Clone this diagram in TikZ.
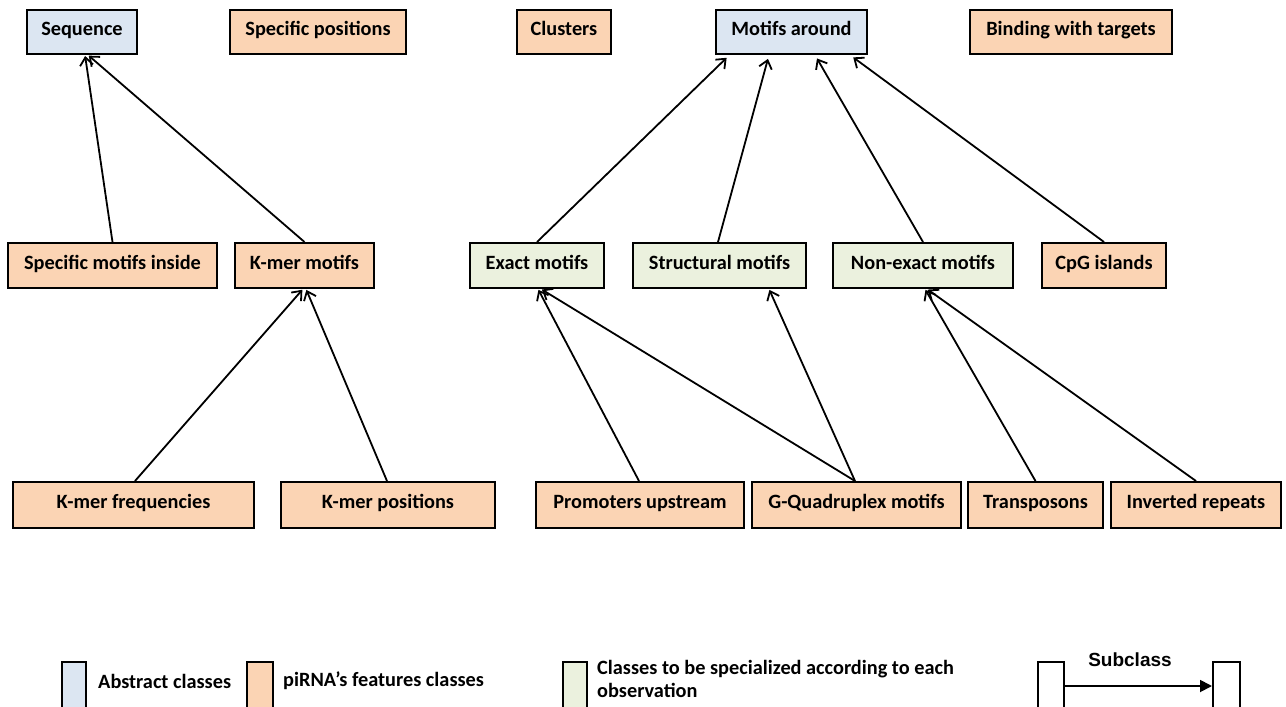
\documentclass[tikz,border=0pt]{standalone}
\usepackage{fontspec}
\setmainfont{Carlito}
\newfontfamily\arialfont{Liberation Sans}
\usetikzlibrary{arrows.meta}
\definecolor{absfill}{HTML}{DCE6F2}
\definecolor{featfill}{HTML}{FBD4B4}
\definecolor{specfill}{HTML}{EBF1DE}
\begin{document}
\begin{tikzpicture}[x=1pt,y=-1pt,
  txt/.style={font=\fontsize{20.3}{23}\selectfont\bfseries, inner sep=0pt},
  box/.style={draw=black, line width=2pt, inner sep=0pt, font=\fontsize{20.3}{23}\selectfont\bfseries, text height=14pt, text depth=7pt},
  absbox/.style={box, fill=absfill},
  featbox/.style={box, fill=featfill},
  specbox/.style={box, fill=specfill},
  plainbox/.style={box, fill=white},
  sub/.style={-{Straight Barb[length=8pt,width=13pt]}, line width=1.8pt, shorten >=1pt},
  subgap/.style={sub, shorten >=4pt}
]
\useasboundingbox (0,0) rectangle (1286,707);
\clip (0,0) rectangle (1286,707);
\fill[white] (0,0) rectangle (1286,707);

% top row
\node[absbox, minimum width=110pt, minimum height=44pt] (seq) at (82,32) {Sequence};
\node[featbox, minimum width=176pt, minimum height=44pt] (spos) at (318,32) {Specific positions};
\node[featbox, minimum width=94pt, minimum height=44pt] (clu) at (564,32) {Clusters};
\node[absbox, minimum width=151pt, minimum height=44pt] (mot) at (791.5,32) {Motifs around};
\node[featbox, minimum width=202pt, minimum height=44pt] (bind) at (1071,32) {Binding with targets};

% middle row
\node[featbox, minimum width=209pt, minimum height=45pt] (smi) at (112.5,265.5) {Specific motifs inside};
\node[featbox, minimum width=139pt, minimum height=45pt] (kmm) at (304.5,265.5) {K-mer motifs};
\node[specbox, minimum width=134pt, minimum height=45pt] (exm) at (537,265.5) {Exact motifs};
\node[specbox, minimum width=173pt, minimum height=45pt] (stm) at (719.5,265.5) {Structural motifs};
\node[specbox, minimum width=180pt, minimum height=45pt] (nem) at (923,265.5) {Non-exact motifs};
\node[featbox, minimum width=124pt, minimum height=45pt] (cpg) at (1104,265.5) {CpG islands};

% bottom row
\node[featbox, minimum width=241pt, minimum height=46pt] (kmf) at (133.5,505) {K-mer frequencies};
\node[featbox, minimum width=214pt, minimum height=46pt] (kmp) at (388,505) {K-mer positions};
\node[featbox, minimum width=208pt, minimum height=46pt] (pro) at (640,505) {Promoters upstream};
\node[featbox, minimum width=209pt, minimum height=46pt] (gq) at (856.5,505) {G-Quadruplex motifs};
\node[featbox, minimum width=135pt, minimum height=46pt] (tra) at (1035.5,505) {Transposons};
\node[featbox, minimum width=170pt, minimum height=46pt] (inv) at (1196,505) {Inverted repeats};

% connectors
\draw[sub] (smi.north) -- ([xshift=3pt]seq.south);
\draw[sub] (kmm.north) -- ([xshift=6pt]seq.south);
\draw[sub] ([xshift=1.5pt]kmf.north) -- ([xshift=-1.5pt]kmm.south);
\draw[sub] ([xshift=-1pt]kmp.north) -- ([xshift=1.5pt]kmm.south);
\draw[subgap] (exm.north) -- ([xshift=-62pt]mot.south);
\draw[subgap] ([xshift=-1.5pt]stm.north) -- ([xshift=-22.5pt]mot.south);
\draw[subgap] (nem.north) -- ([xshift=23.5pt]mot.south);
\draw[subgap] (cpg.north) -- ([xshift=58.5pt]mot.south);
\draw[sub] ([xshift=-1pt]pro.north) -- ([xshift=1pt]exm.south);
\draw[sub] ([xshift=-1.5pt]gq.north) -- ([xshift=4pt]exm.south);
\draw[sub] ([xshift=-1.5pt]gq.north) -- ([xshift=49.5pt]stm.south);
\draw[sub] (tra.north) -- ([xshift=2pt]nem.south);
\draw[sub] (inv.north) -- ([xshift=4pt]nem.south);

% legend
\node[absbox, minimum width=24pt, minimum height=48pt] (la) at (74,686) {};
\node[txt, anchor=west] (lat) at (98,681) {Abstract classes};
\node[featbox, minimum width=26pt, minimum height=48pt] (lf) at (260,686) {};
\node[txt, anchor=west] (lft) at (283,681) {piRNA’s features classes};
\node[specbox, minimum width=24pt, minimum height=48pt] (ls) at (575,686) {};
\node[txt, anchor=west, align=left] (lst) at (597,679) {Classes to be specialized according to each\\observation};
\node[plainbox, minimum width=26pt, minimum height=48pt] (sl) at (1051,686) {};
\node[plainbox, minimum width=27pt, minimum height=48pt] (sr) at (1226.5,686) {};
\draw[line width=1.8pt, -{Triangle[length=12pt,width=12pt]}] (sl.east) -- (sr.west);
\node[font=\arialfont\fontsize{19}{22}\selectfont\bfseries, inner sep=0pt] (slab) at (1130,660) {Subclass};
\end{tikzpicture}
\end{document}
